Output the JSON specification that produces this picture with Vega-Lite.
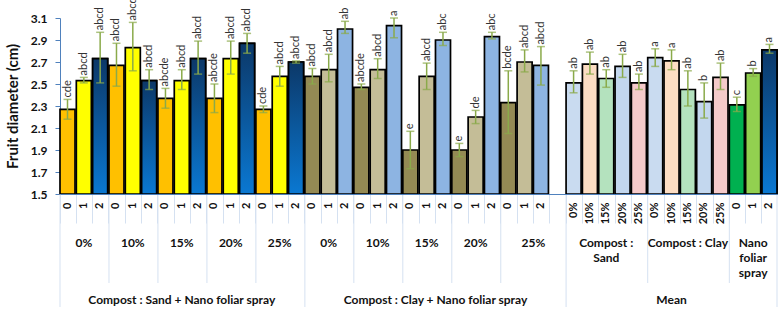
{
  "$schema": "https://vega.github.io/schema/vega-lite/v6.json",
  "width": 717,
  "height": 176,
  "autosize": {"type": "none"},
  "padding": {"left": 60, "top": 18, "right": 2, "bottom": 117},
  "background": "white",
  "config": {
    "view": {"stroke": null},
    "font": "Lato",
    "axisY": {
      "values": [1.5, 1.7, 1.9, 2.1, 2.3, 2.5, 2.7, 2.9, 3.1],
      "labelOverlap": false,
      "grid": false,
      "domainColor": "#4F81BD",
      "tickColor": "#4F81BD",
      "tickSize": 5,
      "labelFont": "Lato",
      "labelFontSize": 12,
      "labelFontWeight": "bold",
      "labelColor": "#111111",
      "labelPadding": 8,
      "titleFont": "Lato",
      "titleFontSize": 15,
      "titleFontWeight": "bold",
      "titleColor": "#111111",
      "titlePadding": 10
    }
  },
  "datasets": {
    "bars": [
      {"id": "CS|0%|0", "series": "S0", "value": 2.27, "lo": 2.18, "hi": 2.36, "letters": "cde"},
      {"id": "CS|0%|1", "series": "S1", "value": 2.53, "lo": 2.51, "hi": 2.56, "letters": "abcd"},
      {"id": "CS|0%|2", "series": "S2", "value": 2.73, "lo": 2.51, "hi": 2.97, "letters": "abcd"},
      {"id": "CS|10%|0", "series": "S0", "value": 2.67, "lo": 2.48, "hi": 2.87, "letters": "abcd"},
      {"id": "CS|10%|1", "series": "S1", "value": 2.83, "lo": 2.62, "hi": 3.06, "letters": "abcd"},
      {"id": "CS|10%|2", "series": "S2", "value": 2.53, "lo": 2.45, "hi": 2.63, "letters": "abcd"},
      {"id": "CS|15%|0", "series": "S0", "value": 2.37, "lo": 2.28, "hi": 2.46, "letters": "abcde"},
      {"id": "CS|15%|1", "series": "S1", "value": 2.53, "lo": 2.45, "hi": 2.63, "letters": "abcd"},
      {"id": "CS|15%|2", "series": "S2", "value": 2.73, "lo": 2.59, "hi": 2.89, "letters": "abcd"},
      {"id": "CS|20%|0", "series": "S0", "value": 2.37, "lo": 2.24, "hi": 2.50, "letters": "abcde"},
      {"id": "CS|20%|1", "series": "S1", "value": 2.73, "lo": 2.59, "hi": 2.89, "letters": "abcd"},
      {"id": "CS|20%|2", "series": "S2", "value": 2.87, "lo": 2.78, "hi": 2.96, "letters": "abcd"},
      {"id": "CS|25%|0", "series": "S0", "value": 2.27, "lo": 2.24, "hi": 2.30, "letters": "cde"},
      {"id": "CS|25%|1", "series": "S1", "value": 2.57, "lo": 2.48, "hi": 2.66, "letters": "abcd"},
      {"id": "CS|25%|2", "series": "S2", "value": 2.70, "lo": 2.69, "hi": 2.71, "letters": "abcd"},
      {"id": "CC|0%|0", "series": "C0", "value": 2.57, "lo": 2.50, "hi": 2.64, "letters": "abcd"},
      {"id": "CC|0%|1", "series": "C1", "value": 2.63, "lo": 2.52, "hi": 2.77, "letters": "abcd"},
      {"id": "CC|0%|2", "series": "C2", "value": 3.00, "lo": 2.96, "hi": 3.07, "letters": "ab"},
      {"id": "CC|10%|0", "series": "C0", "value": 2.47, "lo": 2.45, "hi": 2.50, "letters": "abcde"},
      {"id": "CC|10%|1", "series": "C1", "value": 2.63, "lo": 2.55, "hi": 2.73, "letters": "abcd"},
      {"id": "CC|10%|2", "series": "C2", "value": 3.03, "lo": 2.92, "hi": 3.10, "letters": "a"},
      {"id": "CC|15%|0", "series": "C0", "value": 1.90, "lo": 1.73, "hi": 2.07, "letters": "e"},
      {"id": "CC|15%|1", "series": "C1", "value": 2.57, "lo": 2.45, "hi": 2.69, "letters": "abcd"},
      {"id": "CC|15%|2", "series": "C2", "value": 2.90, "lo": 2.85, "hi": 2.97, "letters": "abc"},
      {"id": "CC|20%|0", "series": "C0", "value": 1.90, "lo": 1.84, "hi": 1.96, "letters": "e"},
      {"id": "CC|20%|1", "series": "C1", "value": 2.20, "lo": 2.14, "hi": 2.26, "letters": "de"},
      {"id": "CC|20%|2", "series": "C2", "value": 2.93, "lo": 2.91, "hi": 2.97, "letters": "abc"},
      {"id": "CC|25%|0", "series": "C0", "value": 2.33, "lo": 2.05, "hi": 2.62, "letters": "bcde"},
      {"id": "CC|25%|1", "series": "C1", "value": 2.70, "lo": 2.61, "hi": 2.81, "letters": "abcd"},
      {"id": "CC|25%|2", "series": "C2", "value": 2.67, "lo": 2.49, "hi": 2.84, "letters": "abcd"},
      {"id": "M|Sand|0%", "series": "P0", "value": 2.51, "lo": 2.42, "hi": 2.62, "letters": "ab"},
      {"id": "M|Sand|10%", "series": "P10", "value": 2.68, "lo": 2.59, "hi": 2.79, "letters": "ab"},
      {"id": "M|Sand|15%", "series": "P15", "value": 2.55, "lo": 2.47, "hi": 2.63, "letters": "ab"},
      {"id": "M|Sand|20%", "series": "P20", "value": 2.66, "lo": 2.56, "hi": 2.77, "letters": "ab"},
      {"id": "M|Sand|25%", "series": "P25", "value": 2.51, "lo": 2.45, "hi": 2.59, "letters": "ab"},
      {"id": "M|Clay|0%", "series": "P0", "value": 2.74, "lo": 2.66, "hi": 2.82, "letters": "a"},
      {"id": "M|Clay|10%", "series": "P10", "value": 2.71, "lo": 2.63, "hi": 2.81, "letters": "a"},
      {"id": "M|Clay|15%", "series": "P15", "value": 2.45, "lo": 2.30, "hi": 2.62, "letters": "ab"},
      {"id": "M|Clay|20%", "series": "P20", "value": 2.34, "lo": 2.19, "hi": 2.51, "letters": "b"},
      {"id": "M|Clay|25%", "series": "P25", "value": 2.56, "lo": 2.45, "hi": 2.69, "letters": "ab"},
      {"id": "M|Nano|0", "series": "N0", "value": 2.31, "lo": 2.25, "hi": 2.38, "letters": "c"},
      {"id": "M|Nano|1", "series": "N1", "value": 2.60, "lo": 2.57, "hi": 2.64, "letters": "b"},
      {"id": "M|Nano|2", "series": "N2", "value": 2.81, "lo": 2.78, "hi": 2.86, "letters": "a"}
    ],
    "groupLabels": [
      {"id": "CS|0%|1", "text": "0%"},
      {"id": "CS|10%|1", "text": "10%"},
      {"id": "CS|15%|1", "text": "15%"},
      {"id": "CS|20%|1", "text": "20%"},
      {"id": "CS|25%|1", "text": "25%"},
      {"id": "CC|0%|1", "text": "0%"},
      {"id": "CC|10%|1", "text": "10%"},
      {"id": "CC|15%|1", "text": "15%"},
      {"id": "CC|20%|1", "text": "20%"},
      {"id": "M|Sand|15%", "text": "Compost :\nSand"},
      {"id": "M|Clay|15%", "text": "Compost : Clay"},
      {"id": "M|Nano|1", "text": "Nano\nfoliar\nspray"}
    ],
    "groupLabelsEven": [
      {"id": "CC|25%|2", "text": "25%"}
    ],
    "topLabels": [
      {"id": "CS|15%|1", "text": "Compost : Sand + Nano foliar spray"},
      {"id": "M|Clay|10%", "text": "Mean"}
    ],
    "topLabelsEven": [
      {"id": "CC|15%|2", "text": "Compost : Clay + Nano foliar spray"}
    ],
    "groupEdges": [
      {"id": "CS|10%|0"}, {"id": "CS|15%|0"}, {"id": "CS|20%|0"}, {"id": "CS|25%|0"},
      {"id": "CC|10%|0"}, {"id": "CC|15%|0"}, {"id": "CC|20%|0"}, {"id": "CC|25%|0"},
      {"id": "M|Clay|0%"}, {"id": "M|Nano|0"}
    ],
    "topEdges": [
      {"id": "CS|0%|0"}, {"id": "CC|0%|0"}, {"id": "M|Sand|0%"}
    ],
    "endEdge": [
      {"id": "M|Nano|2"}
    ]
  },
  "encoding": {
    "x": {
      "field": "id",
      "type": "nominal",
      "title": null,
      "scale": {
        "type": "band",
        "paddingInner": 0.08,
        "paddingOuter": 0,
        "domain": [
          "CS|0%|0", "CS|0%|1", "CS|0%|2", "CS|10%|0", "CS|10%|1", "CS|10%|2",
          "CS|15%|0", "CS|15%|1", "CS|15%|2", "CS|20%|0", "CS|20%|1", "CS|20%|2",
          "CS|25%|0", "CS|25%|1", "CS|25%|2",
          "CC|0%|0", "CC|0%|1", "CC|0%|2", "CC|10%|0", "CC|10%|1", "CC|10%|2",
          "CC|15%|0", "CC|15%|1", "CC|15%|2", "CC|20%|0", "CC|20%|1", "CC|20%|2",
          "CC|25%|0", "CC|25%|1", "CC|25%|2", "CC|25%|",
          "M|Sand|0%", "M|Sand|10%", "M|Sand|15%", "M|Sand|20%", "M|Sand|25%",
          "M|Clay|0%", "M|Clay|10%", "M|Clay|15%", "M|Clay|20%", "M|Clay|25%",
          "M|Nano|0", "M|Nano|1", "M|Nano|2"
        ]
      },
      "axis": {
        "labelExpr": "split(datum.value, '|')[2]",
        "labelAngle": -90,
        "labelAlign": "right",
        "labelBaseline": "middle",
        "labelFont": "Lato",
        "labelFontSize": 11,
        "labelFontWeight": "bold",
        "labelColor": "#111111",
        "labelPadding": -21,
        "labelOverlap": false,
        "bandPosition": 0,
        "tickSize": 29,
        "tickColor": "#D5E1F1",
        "tickWidth": 1,
        "domainColor": "#4F81BD",
        "domainWidth": 1,
        "grid": false,
        "zindex": 1
      }
    },
    "y": {
      "type": "quantitative",
      "title": "Fruit diameter (cm)",
      "scale": {"domain": [1.5, 3.1], "nice": false, "zero": false},
      "axis": {
        "values": [1.5, 1.7, 1.9, 2.1, 2.3, 2.5, 2.7, 2.9, 3.1],
        "format": ".1f",
        "labelOverlap": false
      }
    }
  },
  "layer": [
    {
      "data": {"name": "bars"},
      "mark": {"type": "bar", "stroke": "#000000", "strokeWidth": 1.7},
      "encoding": {
        "y": {"field": "value", "type": "quantitative"},
        "y2": {"datum": 1.5},
        "color": {
          "field": "series",
          "type": "nominal",
          "legend": null,
          "scale": {
            "domain": ["S0", "S1", "S2", "C0", "C1", "C2", "P0", "P10", "P15", "P20", "P25", "N0", "N1", "N2"],
            "range": ["#FFC000", "#FFFF00", "#0B5BA3", "#948A54", "#C4BD97", "#8DB4E2", "#C9DBF0", "#FCDDC3", "#B4E2BE", "#C3D7EE", "#F5CACA", "#00B050", "#92D050", "#0B5BA3"]
          }
        }
      }
    },
    {
      "data": {"name": "bars"},
      "transform": [{"filter": "datum.series === 'S2' || datum.series === 'N2'"}],
      "mark": {
        "type": "bar",
        "stroke": "#000000",
        "strokeWidth": 1.7,
        "color": {
          "gradient": "linear",
          "x1": 0, "y1": 0, "x2": 0, "y2": 1,
          "stops": [
            {"offset": 0, "color": "#0C3868"},
            {"offset": 1, "color": "#0A78D2"}
          ]
        }
      },
      "encoding": {
        "y": {"field": "value", "type": "quantitative"},
        "y2": {"datum": 1.5}
      }
    },
    {
      "data": {"name": "bars"},
      "mark": {"type": "rule", "color": "#8AAA4A", "strokeWidth": 1.5},
      "encoding": {
        "y": {"field": "lo", "type": "quantitative"},
        "y2": {"field": "hi"}
      }
    },
    {
      "data": {"name": "bars"},
      "mark": {"type": "tick", "color": "#8AAA4A", "thickness": 1.5},
      "encoding": {
        "y": {"field": "lo", "type": "quantitative"},
        "size": {"value": 8}
      }
    },
    {
      "data": {"name": "bars"},
      "mark": {"type": "tick", "color": "#8AAA4A", "thickness": 1.5},
      "encoding": {
        "y": {"field": "hi", "type": "quantitative"},
        "size": {"value": 8}
      }
    },
    {
      "data": {"name": "bars"},
      "mark": {"type": "text", "angle": 270, "align": "left", "baseline": "middle", "dx": 2, "font": "Lato", "fontSize": 11, "color": "#333333"},
      "encoding": {
        "y": {"field": "hi", "type": "quantitative"},
        "text": {"field": "letters"}
      }
    },
    {
      "data": {"name": "groupEdges"},
      "mark": {"type": "rule", "color": "#D5E1F1", "strokeWidth": 1, "y2Offset": 89},
      "encoding": {
        "x": {"field": "id", "type": "nominal", "bandPosition": 0},
        "y": {"datum": 1.5},
        "y2": {"datum": 1.5}
      }
    },
    {
      "data": {"name": "topEdges"},
      "mark": {"type": "rule", "color": "#D5E1F1", "strokeWidth": 1, "y2Offset": 113},
      "encoding": {
        "x": {"field": "id", "type": "nominal", "bandPosition": 0},
        "y": {"datum": 1.5},
        "y2": {"datum": 1.5}
      }
    },
    {
      "data": {"name": "endEdge"},
      "mark": {"type": "rule", "color": "#D5E1F1", "strokeWidth": 1, "y2Offset": 113},
      "encoding": {
        "x": {"field": "id", "type": "nominal", "bandPosition": 1},
        "y": {"datum": 1.5},
        "y2": {"datum": 1.5}
      }
    },
    {
      "data": {"name": "groupLabels"},
      "mark": {"type": "text", "align": "center", "baseline": "alphabetic", "dy": 53, "lineBreak": "\n", "lineHeight": 15, "font": "Lato", "fontSize": 12, "fontWeight": "bold", "color": "#111111"},
      "encoding": {
        "y": {"datum": 1.5},
        "text": {"field": "text"}
      }
    },
    {
      "data": {"name": "groupLabelsEven"},
      "mark": {"type": "text", "align": "center", "baseline": "alphabetic", "dy": 53, "font": "Lato", "fontSize": 12, "fontWeight": "bold", "color": "#111111"},
      "encoding": {
        "x": {"field": "id", "type": "nominal", "bandPosition": 0},
        "y": {"datum": 1.5},
        "text": {"field": "text"}
      }
    },
    {
      "data": {"name": "topLabels"},
      "mark": {"type": "text", "align": "center", "baseline": "alphabetic", "dy": 110, "font": "Lato", "fontSize": 12, "fontWeight": "bold", "color": "#111111"},
      "encoding": {
        "y": {"datum": 1.5},
        "text": {"field": "text"}
      }
    },
    {
      "data": {"name": "topLabelsEven"},
      "mark": {"type": "text", "align": "center", "baseline": "alphabetic", "dy": 110, "font": "Lato", "fontSize": 12, "fontWeight": "bold", "color": "#111111"},
      "encoding": {
        "x": {"field": "id", "type": "nominal", "bandPosition": 0},
        "y": {"datum": 1.5},
        "text": {"field": "text"}
      }
    }
  ]
}
